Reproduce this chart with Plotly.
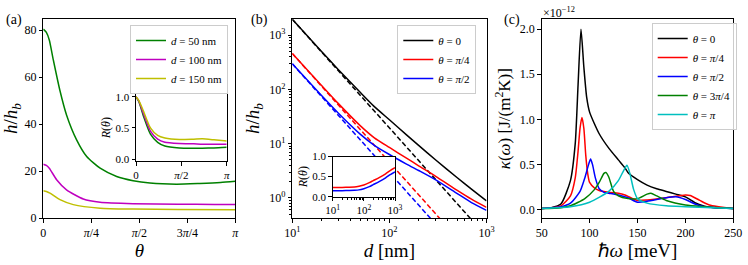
import numpy as np
import plotly.graph_objects as go

W, H = 748, 265
FONT = "Liberation Serif"

# ---------------- Panel (a) data ----------------
theta_a_green = [0.0, 0.05, 0.098, 0.164, 0.27, 0.38, 0.545, 0.71, 0.93, 1.2, 1.47, 1.745, 2.18, 2.56, 2.9, 3.1416]
h_green = [80.4, 79.0, 75.8, 67.3, 54.5, 43.9, 33.3, 26.2, 21.2, 17.7, 15.9, 14.9, 14.4, 14.7, 15.1, 15.6]
theta_a_mag = [0.0, 0.05, 0.098, 0.218, 0.38, 0.654, 0.93, 1.47, 2.2, 2.8, 3.1416]
h_mag = [22.9, 22.4, 21.2, 16.3, 12.0, 8.1, 6.7, 6.1, 5.9, 5.8, 5.7]
theta_a_yel = [0.0, 0.05, 0.109, 0.273, 0.49, 0.93, 1.47, 2.2, 3.1416]
h_yel = [11.6, 11.3, 10.6, 7.8, 5.7, 4.2, 3.8, 3.6, 3.5]
labels_a = ["<i>d</i> = 50 nm", "<i>d</i> = 100 nm", "<i>d</i> = 150 nm"]

# inset (a)
theta_in = [0.0, 0.1, 0.25, 0.5, 0.75, 1.0, 1.5, 2.0, 2.3, 2.7, 3.1416]
R_green = [1.0, 0.92, 0.70, 0.40, 0.27, 0.21, 0.18, 0.175, 0.175, 0.18, 0.19]
R_mag = [1.0, 0.93, 0.74, 0.45, 0.32, 0.27, 0.25, 0.245, 0.24, 0.24, 0.24]
R_yel = [1.0, 0.94, 0.78, 0.50, 0.38, 0.34, 0.315, 0.32, 0.325, 0.31, 0.29]

# ---------------- Panel (b) data ----------------
d_b = [10, 20, 30, 50, 70, 100, 150, 200, 300, 500, 700, 1000]
h_b0 = [1950, 500, 228, 88, 48, 27.5, 14.5, 9.3, 5.0, 2.35, 1.45, 0.88]
h_b4 = [457, 118, 54, 21.5, 12.8, 8.5, 5.4, 3.9, 2.5, 1.38, 0.95, 0.67]
h_b2 = [295, 77, 36, 15.0, 9.3, 6.3, 4.2, 3.2, 2.15, 1.2, 0.82, 0.59]
d_dash = [10, 1000]
h_dash0 = [1950, 0.195]
h_dash4 = [457, 0.0457]
h_dash2 = [295, 0.0295]
labels_b = ["<i>θ</i> = 0", "<i>θ</i> = <i>π</i>/4", "<i>θ</i> = <i>π</i>/2"]

# inset (b)
d_in = [10, 20, 30, 50, 70, 100, 150, 200, 300, 500, 700, 1000]
Rb_red = [0.23, 0.23, 0.235, 0.24, 0.26, 0.29, 0.35, 0.40, 0.47, 0.57, 0.65, 0.72]
Rb_blue = [0.15, 0.15, 0.155, 0.16, 0.17, 0.2, 0.25, 0.3, 0.37, 0.47, 0.55, 0.62]

# ---------------- Panel (c) data ----------------
w_black = [50, 60, 70, 80, 85, 88, 91, 94, 97, 100, 110, 120, 130, 137, 140, 150, 160, 170, 180, 190, 200, 205, 210, 220, 230, 250]
k_black = [0.01, 0.02, 0.06, 0.32, 0.73, 1.39, 2.0, 1.58, 1.24, 1.08, 0.84, 0.68, 0.55, 0.46, 0.41, 0.33, 0.27, 0.23, 0.20, 0.17, 0.14, 0.11, 0.074, 0.037, 0.018, 0.01]
w_red = [50, 70, 80, 85, 88, 90, 92, 94, 96, 98, 100, 105, 110, 120, 130, 137, 145, 150, 160, 180, 200, 205, 215, 225, 250]
k_red = [0.01, 0.04, 0.15, 0.35, 0.65, 0.9, 1.02, 0.9, 0.6, 0.4, 0.3, 0.24, 0.21, 0.19, 0.18, 0.16, 0.12, 0.10, 0.105, 0.13, 0.16, 0.155, 0.1, 0.05, 0.01]
w_blue = [50, 70, 80, 90, 95, 99, 101, 103, 106, 110, 115, 120, 130, 140, 150, 160, 180, 190, 200, 210, 220, 250]
k_blue = [0.01, 0.03, 0.07, 0.2, 0.35, 0.5, 0.56, 0.5, 0.35, 0.23, 0.19, 0.18, 0.16, 0.13, 0.08, 0.09, 0.13, 0.14, 0.11, 0.06, 0.03, 0.01]
w_green = [50, 70, 80, 95, 105, 110, 115, 117, 120, 125, 130, 140, 150, 160, 164, 170, 180, 200, 250]
k_green = [0.01, 0.02, 0.04, 0.12, 0.22, 0.3, 0.4, 0.41, 0.36, 0.2, 0.15, 0.12, 0.12, 0.17, 0.18, 0.15, 0.1, 0.05, 0.01]
w_cyan = [50, 80, 100, 120, 130, 135, 139, 142, 146, 150, 160, 180, 200, 250]
k_cyan = [0.01, 0.03, 0.08, 0.2, 0.32, 0.42, 0.49, 0.4, 0.22, 0.12, 0.07, 0.04, 0.03, 0.01]
labels_c = ["<i>θ</i> = 0", "<i>θ</i> = <i>π</i>/4", "<i>θ</i> = <i>π</i>/2", "<i>θ</i> = 3<i>π</i>/4", "<i>θ</i> = <i>π</i>"]

GREEN, MAG, YEL = "#008000", "#bf00bf", "#bfbf00"
RED, BLUE, CYAN, BLACK = "#ff0000", "#0000ff", "#00bfbf", "#000000"

def px(x):
    return x / W

def py(y):
    return 1 - y / H

fig = go.Figure()

def line(x, y, color, xa, ya, name=None, legend=None, showlegend=False):
    fig.add_trace(go.Scatter(x=x, y=y, mode="lines",
                             line=dict(color=color, width=1.5, shape="spline", smoothing=0.6),
                             name=name, xaxis=xa, yaxis=ya, legend=legend, showlegend=showlegend))

# (a)
line(theta_a_green, h_green, GREEN, "x", "y", labels_a[0], "legend", True)
line(theta_a_mag, h_mag, MAG, "x", "y", labels_a[1], "legend", True)
line(theta_a_yel, h_yel, YEL, "x", "y", labels_a[2], "legend", True)
line(theta_in, R_green, GREEN, "x4", "y4")
line(theta_in, R_mag, MAG, "x4", "y4")
line(theta_in, R_yel, YEL, "x4", "y4")

# (b)
for yy, c in [(h_dash0, BLACK), (h_dash4, RED), (h_dash2, BLUE)]:
    fig.add_trace(go.Scatter(x=d_dash, y=yy, mode="lines", line=dict(color=c, width=1.5, dash="5px,2.5px"),
                             xaxis="x2", yaxis="y2", showlegend=False))
line(d_b, h_b0, BLACK, "x2", "y2", labels_b[0], "legend2", True)
line(d_b, h_b4, RED, "x2", "y2", labels_b[1], "legend2", True)
line(d_b, h_b2, BLUE, "x2", "y2", labels_b[2], "legend2", True)
line(d_in, Rb_red, RED, "x5", "y5")
line(d_in, Rb_blue, BLUE, "x5", "y5")

# (c)
for w, k, c, lab in [(w_black, k_black, BLACK, labels_c[0]), (w_red, k_red, RED, labels_c[1]),
                     (w_blue, k_blue, BLUE, labels_c[2]), (w_green, k_green, GREEN, labels_c[3]),
                     (w_cyan, k_cyan, CYAN, labels_c[4])]:
    line(w, k, c, "x3", "y3", lab, "legend3", True)

ax_common = dict(showline=True, mirror=True, linecolor="black", linewidth=1, ticks="outside",
                 ticklen=3.5, tickwidth=1, tickcolor="black", showgrid=False, zeroline=False,
                 automargin=False, tickfont=dict(family=FONT, size=12, color="black"))
small = dict(family=FONT, size=11, color="black")

ydom = [py(218), py(19.3)]
pi = np.pi
layout = dict(
    width=W, height=H, margin=dict(l=0, r=0, t=0, b=0, autoexpand=False),
    paper_bgcolor="white", plot_bgcolor="white",
    font=dict(family=FONT, color="black"),
    xaxis=dict(ax_common, domain=[px(43.3), px(235.3)], range=[0, pi], anchor="y",
               tickvals=[0, pi/4, pi/2, 3*pi/4, pi], ticktext=["0", "<i>π</i>/4", "<i>π</i>/2", "3<i>π</i>/4", "<i>π</i>"],
               title=dict(text="<i>θ</i>", font=dict(size=19), standoff=2)),
    yaxis=dict(ax_common, domain=ydom, range=[0, 84.6], anchor="x", tickvals=[0, 20, 40, 60, 80],
               title=dict(text="<i>h</i>/<i>h<sub>b</sub></i>", font=dict(size=19), standoff=6)),
    xaxis2=dict(ax_common, domain=[px(292.3), px(486.5)], type="log", range=[1, 3], anchor="y2",
                tickvals=[10, 100, 1000], ticktext=["10<sup>1</sup>", "10<sup>2</sup>", "10<sup>3</sup>"],
                minor=dict(ticks="outside", ticklen=2, tickcolor="black",
                           tickvals=[m * 10**e for e in (1, 2) for m in range(2, 10)]),
                title=dict(text="<i>d</i> [nm]", font=dict(size=19), standoff=2)),
    yaxis2=dict(ax_common, domain=ydom, type="log", range=[-0.37, 3.29], anchor="x2",
                tickvals=[1, 10, 100, 1000], ticktext=["10<sup>0</sup>", "10<sup>1</sup>", "10<sup>2</sup>", "10<sup>3</sup>"],
                minor=dict(ticks="outside", ticklen=2, tickcolor="black",
                           tickvals=[m * 10**e for e in (-1, 0, 1, 2, 3) for m in range(2, 10)]),
                title=dict(text="<i>h</i>/<i>h<sub>b</sub></i>", font=dict(size=19), standoff=4)),
    xaxis3=dict(ax_common, domain=[px(541.7), px(733.3)], range=[50, 250], anchor="y3",
                tickvals=[50, 100, 150, 200, 250],
                title=dict(text="ℏ<i>ω</i> [meV]", font=dict(size=19), standoff=2)),
    yaxis3=dict(ax_common, domain=ydom, range=[-0.095, 2.11], anchor="x3",
                tickvals=[0, 0.5, 1.0, 1.5, 2.0], ticktext=["0.0", "0.5", "1.0", "1.5", "2.0"],
                title=dict(text="<i>κ</i>(<i>ω</i>) [J/(m<sup>2</sup>K)]", font=dict(size=17), standoff=4)),
    xaxis4=dict(ax_common, domain=[px(136), px(226.7)], range=[0, pi], anchor="y4",
                tickvals=[0, pi/2, pi], ticktext=["0", "<i>π</i>/2", "<i>π</i>"], tickfont=small),
    yaxis4=dict(ax_common, domain=[py(161), py(94.3)], range=[-0.03, 1.04], anchor="x4",
                tickvals=[0, 0.5, 1.0], ticktext=["0.0", "0.5", "1.0"], tickfont=small,
                title=dict(text="<i>R</i>(<i>θ</i>)", font=dict(size=12), standoff=2)),
    xaxis5=dict(ax_common, domain=[px(332.7), px(395)], type="log", range=[1, 3], anchor="y5",
                tickvals=[10, 100, 1000], ticktext=["10<sup>1</sup>", "10<sup>2</sup>", "10<sup>3</sup>"],
                tickfont=small,
                minor=dict(ticks="outside", ticklen=2, tickcolor="black",
                           tickvals=[m * 10**e for e in (1, 2) for m in range(2, 10)])),
    yaxis5=dict(ax_common, domain=[py(196.7), py(156.5)], range=[0, 1.0], anchor="x5",
                tickvals=[0, 0.5, 1.0], ticktext=["0.0", "0.5", "1.0"], tickfont=small,
                title=dict(text="<i>R</i>(<i>θ</i>)", font=dict(size=12), standoff=2)),
)

leg_common = dict(bgcolor="rgba(255,255,255,0.8)", bordercolor="#cccccc", borderwidth=1,
                  font=dict(family=FONT, size=11, color="black"), xanchor="left", yanchor="top",
                  tracegroupgap=0, itemwidth=30)
layout["legend"] = dict(leg_common, x=px(130), y=py(25))
layout["legend2"] = dict(leg_common, x=px(397.3), y=py(25))
layout["legend3"] = dict(leg_common, x=px(651.7), y=py(23))

layout["annotations"] = [
    dict(text="(a)", x=px(4), y=py(10), xref="paper", yref="paper", xanchor="left", yanchor="top",
         showarrow=False, font=dict(family=FONT, size=14)),
    dict(text="(b)", x=px(249), y=py(10), xref="paper", yref="paper", xanchor="left", yanchor="top",
         showarrow=False, font=dict(family=FONT, size=14)),
    dict(text="(c)", x=px(502), y=py(10), xref="paper", yref="paper", xanchor="left", yanchor="top",
         showarrow=False, font=dict(family=FONT, size=14)),
    dict(text="×10<sup>−12</sup>", x=px(541), y=py(22), xref="paper", yref="paper", xanchor="left", yanchor="bottom",
         showarrow=False, font=dict(family=FONT, size=12)),
]

fig.update_layout(**layout)
fig.write_html("out.html", config={"displayModeBar": False},
               post_script="document.body.style.margin='0';document.body.style.padding='0';")
